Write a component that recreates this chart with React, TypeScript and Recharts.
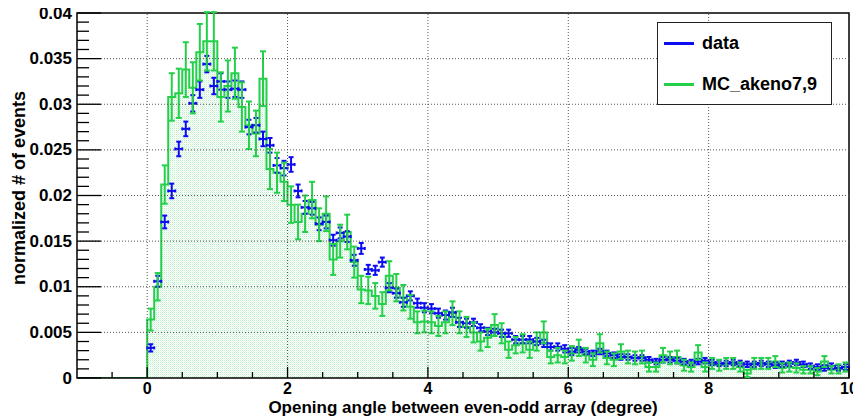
import React from "react";
import { Area, ComposedChart, ErrorBar, ReferenceArea, ReferenceLine, Scatter, XAxis, YAxis, Label } from "recharts";

// histogram binning: 100 bins of 0.1 degree from 0 to 10
const binWidth = 0.1;

// "data" (blue points), one value per bin
const dataValues = [
  0.0033, 0.0106, 0.0171, 0.0205, 0.0251, 0.0273, 0.0301, 0.0316, 0.0344, 0.032,
  0.0325, 0.0316, 0.0317, 0.0316, 0.0275, 0.0277, 0.0262, 0.0255, 0.0233, 0.023,
  0.0234, 0.0205, 0.0187, 0.0186, 0.0169, 0.0171, 0.0151, 0.0159, 0.0155, 0.0129,
  0.0142, 0.0119, 0.0118, 0.0127, 0.0099, 0.0093, 0.0083, 0.009, 0.0082, 0.0077,
  0.0076, 0.0071, 0.0069, 0.0072, 0.0061, 0.006, 0.0061, 0.0055, 0.0051, 0.005,
  0.0049, 0.0049, 0.0042, 0.0042, 0.0042, 0.004, 0.0038, 0.0034, 0.0034, 0.0032,
  0.0029, 0.0031, 0.0029, 0.0027, 0.0029, 0.0027, 0.0025, 0.0023, 0.0023, 0.0022,
  0.0022, 0.002, 0.0018, 0.002, 0.002, 0.0019, 0.0018, 0.0017, 0.0018, 0.0019,
  0.0017, 0.0016, 0.0016, 0.0017, 0.0016, 0.0015, 0.0015, 0.0016, 0.0015, 0.0014,
  0.0015, 0.0016, 0.0017, 0.0015, 0.0013, 0.0012, 0.0011, 0.0013, 0.0011, 0.0012,
];

const dataErrors = [
  0.0004, 0.0006, 0.0007, 0.0008, 0.0008, 0.0008, 0.0009, 0.0009, 0.0009, 0.0009,
  0.0009, 0.0009, 0.0009, 0.0009, 0.0008, 0.0008, 0.0008, 0.0008, 0.0008, 0.0008,
  0.0008, 0.0007, 0.0007, 0.0007, 0.0007, 0.0007, 0.0006, 0.0006, 0.0006, 0.0006,
  0.0006, 0.0005, 0.0005, 0.0005, 0.0005, 0.0005, 0.0005, 0.0005, 0.0005, 0.0005,
  0.0005, 0.0005, 0.0005, 0.0005, 0.0005, 0.0005, 0.0004, 0.0004, 0.0004, 0.0004,
  0.0004, 0.0004, 0.0004, 0.0004, 0.0004, 0.0004, 0.0004, 0.0004, 0.0004, 0.0004,
  0.0004, 0.0003, 0.0003, 0.0003, 0.0003, 0.0003, 0.0003, 0.0003, 0.0003, 0.0003,
  0.0003, 0.0003, 0.0003, 0.0003, 0.0003, 0.0003, 0.0003, 0.0003, 0.0003, 0.0003,
  0.0003, 0.0003, 0.0003, 0.0003, 0.0003, 0.0003, 0.0003, 0.0003, 0.0003, 0.0003,
  0.0003, 0.0003, 0.0003, 0.0003, 0.0003, 0.0003, 0.0003, 0.0003, 0.0003, 0.0003,
];

// "MC_akeno7,9" (green histogram)
const mcValues = [
  0.0064, 0.01, 0.0212, 0.0308, 0.0312, 0.0338, 0.0318, 0.0357, 0.0369, 0.0369,
  0.0308, 0.032, 0.0334, 0.0297, 0.0277, 0.0268, 0.0328, 0.0229, 0.0225, 0.0215,
  0.019, 0.0171, 0.018, 0.0195, 0.0168, 0.018, 0.013, 0.015, 0.016, 0.0127,
  0.0097, 0.0096, 0.009, 0.0081, 0.0112, 0.0099, 0.0088, 0.0078, 0.0061, 0.0062,
  0.0061, 0.0057, 0.0061, 0.0071, 0.0061, 0.0056, 0.005, 0.004, 0.0044, 0.0058,
  0.0049, 0.0031, 0.0036, 0.0038, 0.0031, 0.004, 0.005, 0.0023, 0.0025, 0.0023,
  0.0027, 0.0033, 0.0025, 0.002, 0.0038, 0.0022, 0.002, 0.0029, 0.0023, 0.0022,
  0.0023, 0.0012, 0.0012, 0.0025, 0.0022, 0.0023, 0.0014, 0.0012, 0.0028, 0.0012,
  0.0016, 0.0014, 0.0016, 0.0016, 0.0012, 0.0005, 0.0016, 0.0016, 0.0016, 0.0018,
  0.0011, 0.0012, 0.0011, 0.0009, 0.0009, 0.0007, 0.0018, 0.0009, 0.001, 0.0012,
];

const mcErrors = [
  0.0012, 0.0015, 0.0021, 0.0026, 0.0027, 0.003, 0.0028, 0.0031, 0.0032, 0.0032,
  0.0027, 0.0028, 0.0028, 0.0027, 0.0026, 0.0025, 0.003, 0.0022, 0.0022, 0.0021,
  0.002, 0.0019, 0.002, 0.002, 0.0018, 0.0019, 0.0017, 0.0018, 0.0019, 0.0017,
  0.0015, 0.0015, 0.0014, 0.0013, 0.0016, 0.0015, 0.0014, 0.0013, 0.0012, 0.0012,
  0.0012, 0.0011, 0.0012, 0.0013, 0.0012, 0.0011, 0.0011, 0.001, 0.001, 0.0012,
  0.0011, 0.0009, 0.0009, 0.001, 0.0009, 0.001, 0.0012, 0.0007, 0.0008, 0.0007,
  0.0008, 0.0009, 0.0008, 0.0007, 0.001, 0.0007, 0.0007, 0.0008, 0.0007, 0.0007,
  0.0007, 0.0005, 0.0005, 0.0008, 0.0007, 0.0007, 0.0006, 0.0005, 0.0008, 0.0005,
  0.0006, 0.0006, 0.0006, 0.0006, 0.0005, 0.0004, 0.0006, 0.0006, 0.0006, 0.0006,
  0.0005, 0.0005, 0.0005, 0.0004, 0.0004, 0.0004, 0.0006, 0.0004, 0.0005, 0.0005,
];

const xDomain = [-1, 10];
const xMajorTicks = [0, 2, 4, 6, 8, 10];
const xTickLabels = ["0", "2", "4", "6", "8", "10"];
const yMajorTicks = [0, 0.005, 0.01, 0.015, 0.02, 0.025, 0.03, 0.035, 0.04];
const yTickLabels = ["0", "0.005", "0.01", "0.015", "0.02", "0.025", "0.03", "0.035", "0.04"];

const xMinorTicks: number[] = [];
for (let i = -1; i <= 21; i++) xMinorTicks.push(i * 0.5);
const yMinorTicks: number[] = [];
for (let i = 0; i <= 40; i++) yMinorTicks.push(i / 1000);

const BLUE = "#0c0cf0";
const GREEN = "#24d04a";
const FONT = '"Liberation Sans", Arial, Helvetica, sans-serif';

// chart sits at the page's top edge (body margin cancelled vertically)
const W = 853;
const H = 418;
const PLOT_LEFT = 69;
const PLOT_RIGHT = 841;
const PLOT_BOTTOM = 378;

const histRows = [
  { x: xDomain[0], mc: 0 },
  ...mcValues.map((v, i) => ({ x: +(i * binWidth).toFixed(2), mc: v })),
  { x: xDomain[1], mc: mcValues[mcValues.length - 1] },
];
const dataPoints = dataValues.map((v, i) => ({
  x: +((i + 0.5) * binWidth).toFixed(3),
  y: v,
  ey: dataErrors[i],
  ex: binWidth / 2,
}));
const mcPoints = mcValues.map((v, i) => ({
  x: +((i + 0.5) * binWidth).toFixed(3),
  y: v,
  ey: mcErrors[i],
}));

const near = (a: number, b: number) => Math.abs(a - b) < 1e-9;

function YTick(props: any) {
  const { y, payload } = props;
  const idx = yMajorTicks.findIndex((t) => near(t, payload.value));
  const major = idx >= 0;
  return (
    <g>
      <line x1={PLOT_LEFT} x2={PLOT_LEFT + (major ? 24 : 12)} y1={y} y2={y} stroke="#000" strokeWidth={1.3} />
      {major && (
        <text x={PLOT_LEFT - 5} y={y} textAnchor="end" dominantBaseline="central" fontFamily={FONT} fontWeight="bold" fontSize={17} fill="#000">
          {yTickLabels[idx]}
        </text>
      )}
    </g>
  );
}

function XTick(props: any) {
  const { x, payload } = props;
  const idx = xMajorTicks.findIndex((t) => near(t, payload.value));
  const major = idx >= 0;
  if (near(payload.value, xDomain[0])) return <g />;
  return (
    <g>
      <line x1={x} x2={x} y1={PLOT_BOTTOM} y2={PLOT_BOTTOM - (major ? 11 : 6)} stroke="#000" strokeWidth={1.3} />
      {major && (
        <text x={x} y={PLOT_BOTTOM + 16} textAnchor="middle" fontFamily={FONT} fontWeight="bold" fontSize={16} fill="#000">
          {xTickLabels[idx]}
        </text>
      )}
    </g>
  );
}

const NoDot = () => <g />;

function LegendBox() {
  const row = (color: string, text: string, top: number) => (
    <div style={{ position: "absolute", left: 0, top, height: 24, width: "100%", display: "flex", alignItems: "center" }}>
      <div style={{ marginLeft: 6, width: 30, height: 3, background: color }} />
      <span style={{ marginLeft: 8, fontFamily: FONT, fontWeight: "bold", fontSize: 18, color: "#000" }}>{text}</span>
    </div>
  );
  return (
    <div
      style={{
        position: "absolute",
        left: 649,
        top: 22,
        width: 175,
        height: 83,
        border: "1.3px solid #222",
        background: "#fff",
        boxSizing: "border-box",
      }}
    >
      {row(BLUE, "data", 8)}
      {row(GREEN, "MC_akeno7,9", 49)}
    </div>
  );
}

export default function App() {
  return (
    <div style={{ position: "relative", width: W, height: H, marginTop: -8 }}>
      <ComposedChart width={W} height={H} data={histRows} margin={{ top: 13, right: W - PLOT_RIGHT, bottom: 0, left: 0 }}>
        <defs>
          <pattern id="mcDots" width="2" height="2" patternUnits="userSpaceOnUse">
            <rect width="1" height="1" fill="#3ad35c" fillOpacity={0.35} />
            <rect x="1" y="1" width="1" height="1" fill="#3ad35c" fillOpacity={0.12} />
          </pattern>
        </defs>
        <XAxis
          type="number"
          dataKey="x"
          domain={xDomain}
          ticks={xMinorTicks}
          interval={0}
          allowDataOverflow
          axisLine={false}
          tickLine={false}
          tick={(p: any) => <XTick {...p} />}
          height={40}
        >
          <Label
            content={() => (
              <text x={(PLOT_LEFT + PLOT_RIGHT) / 2} y={413} textAnchor="middle" fontFamily={FONT} fontWeight="bold" fontSize={17} fill="#000">
                Opening angle between even-odd array (degree)
              </text>
            )}
          />
        </XAxis>
        <YAxis
          type="number"
          domain={[0, 0.04]}
          ticks={yMinorTicks}
          interval={0}
          allowDataOverflow
          axisLine={false}
          tickLine={false}
          tick={(p: any) => <YTick {...p} />}
          width={PLOT_LEFT}
        >
          <Label
            content={() => (
              <text
                x={11}
                y={188}
                transform="rotate(-90 11 188)"
                textAnchor="middle"
                dominantBaseline="central"
                fontFamily={FONT}
                fontWeight="bold"
                fontSize={18}
                fill="#000"
              >
                normalized # of events
              </text>
            )}
          />
        </YAxis>
        <Scatter data={dataPoints} dataKey="y" shape={NoDot} isAnimationActive={false}>
          <ErrorBar dataKey="ey" direction="y" width={2.5} stroke={BLUE} strokeWidth={2} isAnimationActive={false} />
          <ErrorBar dataKey="ex" direction="x" width={1.5} stroke={BLUE} strokeWidth={2} isAnimationActive={false} />
        </Scatter>
        <Area
          type="stepAfter"
          dataKey="mc"
          stroke={GREEN}
          strokeWidth={2}
          fill="url(#mcDots)"
          fillOpacity={1}
          dot={false}
          activeDot={false}
          isAnimationActive={false}
        />
        <Scatter data={mcPoints} dataKey="y" shape={NoDot} isAnimationActive={false}>
          <ErrorBar dataKey="ey" direction="y" width={3} stroke={GREEN} strokeWidth={2} isAnimationActive={false} />
        </Scatter>
        {yMajorTicks.slice(1, -1).map((v) => (
          <ReferenceLine key={"gy" + v} y={v} stroke="#555" strokeDasharray="1 2" strokeWidth={1} />
        ))}
        {xMajorTicks.slice(0, -1).map((v) => (
          <ReferenceLine key={"gx" + v} x={v} stroke="#555" strokeDasharray="1 2" strokeWidth={1} />
        ))}
        <ReferenceArea x1={xDomain[0]} x2={xDomain[1]} y1={0} y2={0.04} fill="none" stroke="#000" strokeWidth={1.5} />
      </ComposedChart>
      <LegendBox />
    </div>
  );
}
